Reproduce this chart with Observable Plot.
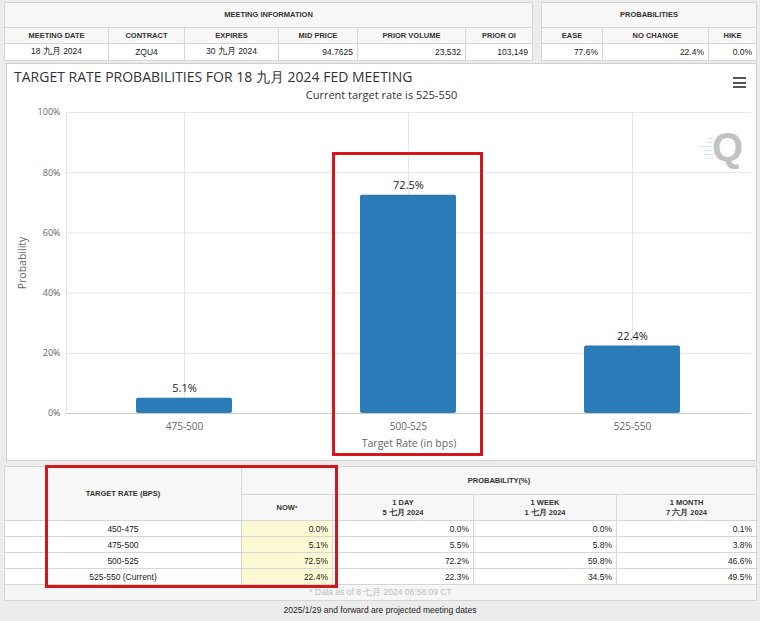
<!DOCTYPE html>
<html>
<head>
<meta charset="utf-8">
<script src="https://cdn.jsdelivr.net/npm/d3@7"></script>
<script src="https://cdn.jsdelivr.net/npm/@observablehq/plot@0.6"></script>
<style>
  html, body { margin: 0; padding: 0; }
  body { width: 760px; height: 621px; background: #ececec; position: relative; overflow: hidden;
         font-family: Arial, "Liberation Sans", sans-serif; color: #333; }
  .grid { position: absolute; display: grid; gap: 1px; padding: 1px; background: #d6d6d6; box-sizing: border-box; }
  .grid > div { background: #fff; display: flex; align-items: center; justify-content: center;
                font-size: 8.5px; color: #222; white-space: nowrap; overflow: hidden; padding: 0 4px; }
  .grid > div.h { background: #f7f7f7; font-weight: bold; font-size: 7.5px; color: #333; text-align: center; line-height: 10px; }
  .grid > div.r { justify-content: flex-end; }
  .grid > div.now { background: #fcf9d4; }
  .grid > div.foot { background: #f6f6f6; color: #bdbdbd; font-size: 8.5px; }
  #panel { position: absolute; left: 6px; top: 63px; width: 751px; height: 398px; background: #fff;
           border: 1px solid #cfcfcf; box-sizing: border-box; }
  #title { position: absolute; left: 14px; top: 70px; font-family: "Open Sans", sans-serif; font-size: 14px;
           line-height: 14px; color: #333; white-space: nowrap; }
  #subtitle { position: absolute; left: 6px; width: 751px; top: 89px; text-align: center; font-family: "Open Sans", sans-serif;
              font-size: 11px; line-height: 11px; color: #333; }
  #chart { position: absolute; left: 6px; top: 104px; }
  .burger { position: absolute; left: 733px; width: 13px; height: 2px; background: #555; }
  #q { position: absolute; left: 712px; top: 127px; font-family: Arial, "Liberation Sans", sans-serif; font-weight: bold;
       font-size: 40px; line-height: 40px; color: #c2c2c2; }
  .teal { position: absolute; height: 1px; background: #c8ece8; }
  .redbox { position: absolute; border: 3px solid #d4171d; box-sizing: border-box; }
  #note { position: absolute; left: 0; width: 760px; top: 605px; text-align: center; font-size: 8.5px; color: #222; }
</style>
</head>
<body>
<div id="top1" class="grid"></div>
<div id="top2" class="grid"></div>
<div id="panel"></div>
<div id="title"></div>
<div id="subtitle"></div>
<div id="chart"></div>
<div class="burger" style="top:77px"></div>
<div class="burger" style="top:81.5px"></div>
<div class="burger" style="top:86px"></div>
<div class="teal" style="left:703px;top:150px;width:10px"></div>
<div class="teal" style="left:699px;top:146px;width:12px"></div>
<div class="teal" style="left:706px;top:142px;width:7px"></div>
<div class="teal" style="left:708px;top:138px;width:5px"></div>
<div class="teal" style="left:704px;top:154px;width:9px"></div>
<div class="teal" style="left:709px;top:158px;width:4px"></div>
<div id="q">Q</div>
<div id="bottom" class="grid"></div>
<div class="redbox" style="left:332px;top:152px;width:151px;height:304px"></div>
<div class="redbox" style="left:45px;top:465px;width:293px;height:123px"></div>
<div id="note"></div>
<script>
// ---------- data ----------
const meetingTitle = "TARGET RATE PROBABILITIES FOR 18 九月 2024 FED MEETING";
const subtitleText = "Current target rate is 525-550";
const meetingHeader = "MEETING INFORMATION";
const meetingCols = ["MEETING DATE", "CONTRACT", "EXPIRES", "MID PRICE", "PRIOR VOLUME", "PRIOR OI"];
const meetingVals = ["18 九月 2024", "ZQU4", "30 九月 2024", "94.7625", "23,532", "103,149"];
const probHeader = "PROBABILITIES";
const probCols = ["EASE", "NO CHANGE", "HIKE"];
const probVals = ["77.6%", "22.4%", "0.0%"];

const categories = ["475-500", "500-525", "525-550"];
const probabilities = [5.1, 72.5, 22.4];
const yTicks = [0, 20, 40, 60, 80, 100];

const tableRateHeader = "TARGET RATE (BPS)";
const tableProbHeader = "PROBABILITY(%)";
const periodCols = ["NOW <sup>*</sup>", "1 DAY<br>5 七月 2024", "1 WEEK<br>1 七月 2024", "1 MONTH<br>7 六月 2024"];
const rateRows = ["450-475", "475-500", "500-525", "525-550 (Current)"];
const nowVals = ["0.0%", "5.1%", "72.5%", "22.4%"];
const dayVals = ["0.0%", "5.5%", "72.2%", "22.3%"];
const weekVals = ["0.0%", "5.8%", "59.8%", "34.5%"];
const monthVals = ["0.1%", "3.8%", "46.6%", "49.5%"];
const footText = "* Data as of 8 七月 2024 08:58:09 CT";
const noteText = "2025/1/29 and forward are projected meeting dates";

// ---------- helpers ----------
function cell(parent, html, cls, style) {
  const d = document.createElement("div");
  d.innerHTML = html;
  if (cls) d.className = cls;
  if (style) d.setAttribute("style", style);
  parent.appendChild(d);
  return d;
}

// ---------- top tables ----------
const t1 = document.getElementById("top1");
Object.assign(t1.style, {left: "4px", top: "2px", width: "529px",
  gridTemplateColumns: "103px 75px 93px 78px 107px 66px", gridTemplateRows: "24px 15px 16px"});
cell(t1, meetingHeader, "h", "grid-column: 1 / span 6");
meetingCols.forEach(c => cell(t1, c, "h"));
meetingVals.forEach((v, i) => cell(t1, v, i >= 3 ? "r" : ""));

const t2 = document.getElementById("top2");
Object.assign(t2.style, {left: "541px", top: "2px", width: "216px",
  gridTemplateColumns: "60px 105px 47px", gridTemplateRows: "24px 15px 16px"});
cell(t2, probHeader, "h", "grid-column: 1 / span 3");
probCols.forEach(c => cell(t2, c, "h"));
probVals.forEach(v => cell(t2, v, "r"));

// ---------- chart ----------
document.getElementById("title").textContent = meetingTitle;
document.getElementById("subtitle").textContent = subtitleText;

const bars = categories.map((c, i) => ({rate: c, p: probabilities[i]}));
const chart = Plot.plot({
  width: 751,
  height: 357,
  marginLeft: 60,
  marginRight: 6,
  marginTop: 8,
  marginBottom: 48,
  style: {fontFamily: "'Open Sans', sans-serif", color: "#666", background: "transparent", overflow: "visible"},
  x: {domain: categories, paddingInner: 0.573, paddingOuter: 0.2866, insetLeft: 4.5, insetRight: 5.5},
  y: {domain: [0, 100]},
  marks: [
    Plot.ruleY(yTicks.filter(t => t > 0), {stroke: "#e6e6e6"}),
    Plot.ruleX(categories, {stroke: "#e6e6e6"}),
    Plot.frame({anchor: "left", stroke: "#e6e6e6"}),
    Plot.barY(bars, {x: "rate", y: "p", fill: "#2b7bb9", rx: 2}),
    Plot.ruleY([0], {stroke: "#cccccc"}),
    Plot.text(bars, {x: "rate", y: "p", text: d => d.p.toFixed(1) + "%", lineAnchor: "bottom", dy: -6,
                     fill: "#222", fontSize: 11}),
    Plot.axisY({ticks: yTicks, tickSize: 0, tickPadding: 6, tickFormat: d => d + "%", fontSize: 9, label: null, fill: "#666"}),
    Plot.axisX({tickSize: 0, tickPadding: 9, fontSize: 10, label: null, fill: "#666"}),
    Plot.text(["Probability"], {frameAnchor: "left", textAnchor: "middle", lineAnchor: "middle", rotate: -90, dx: -44,
                                fontSize: 10.5, fill: "#666"}),
    Plot.text(["Target Rate (in bps)"], {frameAnchor: "bottom", lineAnchor: "middle", dy: 30, fontSize: 10.5, fill: "#666"})
  ]
});
document.getElementById("chart").appendChild(chart);

// ---------- bottom table ----------
const tb = document.getElementById("bottom");
Object.assign(tb.style, {left: "4px", top: "466px", width: "753px",
  gridTemplateColumns: "236px 90px 140px 142px 139px", gridTemplateRows: "27px 25px 15px 15px 15px 15px 15px"});
cell(tb, tableRateHeader, "h", "grid-row: 1 / span 2");
cell(tb, tableProbHeader, "h", "grid-column: 2 / span 4");
periodCols.forEach(c => cell(tb, c, "h"));
rateRows.forEach((r, i) => {
  cell(tb, r, "");
  cell(tb, nowVals[i], "r now");
  cell(tb, dayVals[i], "r");
  cell(tb, weekVals[i], "r");
  cell(tb, monthVals[i], "r");
});
cell(tb, footText, "foot", "grid-column: 1 / span 5");
document.getElementById("note").textContent = noteText;
</script>
</body>
</html>
